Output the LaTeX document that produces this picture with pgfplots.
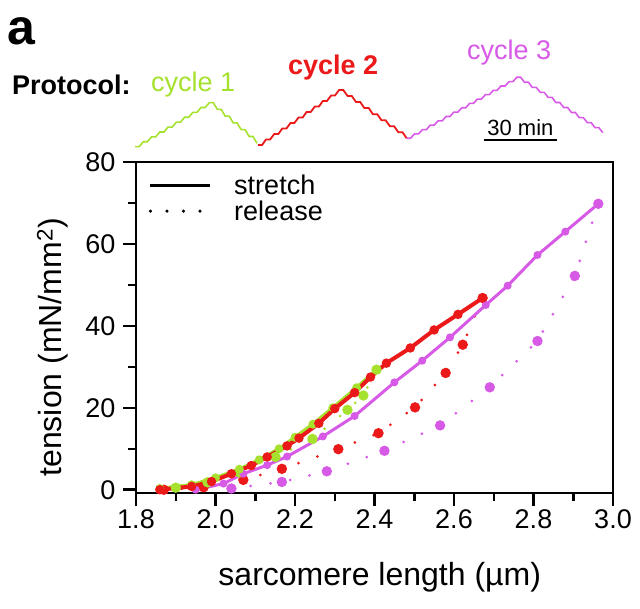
\documentclass[border=0pt]{standalone}
\usepackage{fontspec}
\setmainfont{Liberation Sans}
\usepackage{pgfplots}
\pgfplotsset{compat=1.18}

\definecolor{cgreen}{RGB}{165,225,45}
\definecolor{cred}{RGB}{235,25,25}
\definecolor{cmag}{RGB}{215,90,230}

\pgfplotsset{
  stretch/.style={line width=3.5pt, mark=*, mark size=2.6pt},
  release/.style={line width=3pt, line cap=round, dash pattern=on 0pt off 20pt,
                  mark=*, mark size=3.6pt, mark options={solid}},
}

\begin{document}
\begin{tikzpicture}
\useasboundingbox (0,0) rectangle (640pt,-609pt);

% panel letter and protocol labels
\node[anchor=base west, inner sep=0, font=\fontsize{50}{50}\selectfont\bfseries] at (7pt,-45pt) {a};
\node[anchor=base west, inner sep=0, font=\fontsize{27}{30}\selectfont\bfseries] at (12pt,-95pt) {Protocol:};
\node[anchor=base west, inner sep=0, text=cgreen, font=\fontsize{27}{30}\selectfont] at (151pt,-92pt) {cycle 1};
\node[anchor=base west, inner sep=0, text=cred, font=\fontsize{27}{30}\selectfont\bfseries] at (288pt,-75pt) {cycle 2};
\node[anchor=base west, inner sep=0, text=cmag, font=\fontsize{27}{30}\selectfont] at (467pt,-60pt) {cycle 3};

% protocol traces (time in min)
\begin{axis}[
    at={(135pt,-150pt)}, anchor=south west,
    scale only axis, width=486pt, height=80pt,
    xmin=0, xmax=200, ymin=0, ymax=80,
    axis lines=none, clip=false,
]
\addplot[cgreen, line width=1.6pt] coordinates {
    (0,3.3) (1.7,3.3) (3.4,8.2) (5.1,8.2) (6.8,13.1) (8.5,13.1) (10.2,18) (11.9,18)
    (13.6,22.9) (15.3,22.9) (17,27.8) (18.7,27.8) (20.4,32.7) (22.1,32.7) (23.8,37.6)
    (25.5,37.6) (27.2,42.5) (28.9,42.5) (30.6,47.4)
    (32.2,47.4) (33.9,40.6) (35.5,40.6) (37.1,33.8) (38.8,33.8) (40.4,27.1) (42.0,27.1)
    (43.7,20.3) (45.3,20.3) (47.0,13.5) (48.6,13.5) (50.2,6.7)
};
\addplot[cred, line width=1.8pt] coordinates {
    (50.6,5) (52.3,5) (53.9,10.5) (55.6,10.5) (57.3,16) (59,16) (60.6,21.5) (62.3,21.5)
    (64,27) (65.6,27) (67.3,32.5) (69,32.5) (70.6,38) (72.3,38) (74,43.5) (75.7,43.5)
    (77.3,49) (79,49) (80.7,54.5) (82.3,54.5) (84,60)
    (85.7,60) (87.5,54) (89.2,54) (91,47.9) (92.7,47.9) (94.4,41.9) (96.2,41.9)
    (97.9,35.8) (99.7,35.8) (101.4,29.8) (103.1,29.8) (104.9,23.8) (106.6,23.8)
    (108.4,17.7) (110.1,17.7) (111.8,11.7)
};
\addplot[cmag, line width=1.6pt] coordinates {
    (111.8,11.7) (113.4,11.7) (115,16.1) (116.7,16.1) (118.3,20.4) (119.9,20.4)
    (121.5,24.8) (123.1,24.8) (124.7,29.1) (126.4,29.1) (128,33.5) (129.6,33.5)
    (131.2,37.8) (132.8,37.8) (134.5,42.2) (136.1,42.2) (137.7,46.6) (139.3,46.6)
    (140.9,50.9) (142.5,50.9) (144.2,55.3) (145.8,55.3) (147.4,59.6) (149,59.6)
    (150.6,64) (152.3,64) (153.9,68.3) (155.5,68.3) (157.1,72.7)
    (158.7,72.7) (160.3,67.7) (161.9,67.7) (163.5,62.6) (165.1,62.6) (166.8,57.6)
    (168.4,57.6) (170,52.6) (171.6,52.6) (173.2,47.5) (174.8,47.5) (176.4,42.5)
    (178,42.5) (179.6,37.5) (181.2,37.5) (182.8,32.4) (184.5,32.4) (186.1,27.4)
    (187.7,27.4) (189.3,22.3) (190.9,22.3) (192.5,17.3)
};
% 30 min scale bar
\addplot[black, line width=2pt] coordinates {(143.6,10) (173.7,10)};
\node[anchor=base, inner sep=0, font=\fontsize{22}{24}\selectfont] at (axis cs:158.6,14) {30 min};
\end{axis}

% main panel
\begin{axis}[
    at={(136pt,-493pt)}, anchor=south west,
    scale only axis, width=477pt, height=331pt,
    xmin=1.8, xmax=3.0, ymin=-0.8, ymax=80,
    xtick={1.8,2.0,2.2,2.4,2.6,2.8,3.0},
    minor xtick={1.9,2.1,2.3,2.5,2.7,2.9},
    ytick={0,20,40,60,80},
    minor ytick={10,30,50,70},
    xtick pos=bottom, ytick pos=left,
    tick align=outside,
    major tick length=13pt, minor tick length=8pt,
    tick style={black, line width=2.5pt},
    axis line style={line width=2.5pt},
    /pgf/number format/assume math mode=true,
    ticklabel style={font=\fontsize{27}{30}\selectfont},
    xticklabel style={/pgf/number format/.cd, fixed, fixed zerofill, precision=1},
    yticklabel style={xshift=-4pt},
    label style={font=\fontsize{32}{36}\selectfont},
    xlabel={sarcomere length (µm)},
    ylabel={tension (mN/mm\textsuperscript{2})},
    xlabel style={at={(axis description cs:0.511,-0.254)}, anchor=center},
    ylabel style={at={(axis description cs:-0.175,0.44)}, anchor=center},
    legend style={at={(rel axis cs:0.02,0.975)}, anchor=north west, draw=none, fill=none,
                  font=\fontsize{27}{30}\selectfont, row sep=1pt},
    legend cell align=left,
    legend image code/.code={\draw[#1] (0pt,0pt) -- (60pt,0pt); \path (80pt,0pt);},
    clip=false,
]
\addlegendimage{black, line width=3pt}
\addlegendentry{stretch}
\addlegendimage{black, line width=3.5pt, line cap=round, dash pattern=on 0pt off 16.5pt}
\addlegendentry{release}

% release (dotted)
\addplot[cmag, release, forget plot] coordinates {
    (2.963,69.8) (2.904,52.2) (2.81,36.3) (2.69,25) (2.565,15.7) (2.425,9.5)
    (2.28,4.5) (2.167,1.9) (2.04,0.3)
};
\addplot[cred, release, forget plot] coordinates {
    (2.672,46.8) (2.622,35.4) (2.579,28.5) (2.502,20.1) (2.41,13.8) (2.309,9.9)
    (2.167,5.1) (2.07,2.4) (1.97,0.6) (1.87,0)
};
\addplot[cgreen, release, forget plot] coordinates {
    (2.405,29.3) (2.372,23) (2.332,19.5) (2.244,12.4) (2.151,8.0) (2.06,4.2)
    (1.98,1.8) (1.90,0.5)
};

% stretch (solid)
\addplot[cmag, stretch, line width=3pt, mark size=2.4pt, forget plot] coordinates {
    (1.95,0) (2.02,1.5) (2.07,3.9) (2.13,6) (2.18,8.1) (2.27,13) (2.35,18)
    (2.45,26.2) (2.52,31.5) (2.59,37.2) (2.68,45.1) (2.735,49.8) (2.81,57.3)
    (2.88,63) (2.963,69.8)
};
\addplot[cgreen, stretch, forget plot] coordinates {
    (1.86,0.3) (1.94,1.2) (2.00,2.9) (2.06,5.0) (2.11,7.3) (2.16,10.0) (2.20,12.8)
    (2.245,16.0) (2.295,20.0) (2.355,24.9) (2.405,29.3)
};
\addplot[cred, stretch, line width=4pt, forget plot] coordinates {
    (1.86,0) (1.94,0.8) (1.99,2) (2.04,3.9) (2.09,5.9) (2.13,8) (2.18,10.7)
    (2.21,12.6) (2.26,16.2) (2.30,19.8) (2.35,23.7) (2.39,27.5) (2.43,30.9)
    (2.49,34.6) (2.55,39) (2.61,42.8) (2.672,46.8)
};
\end{axis}
\end{tikzpicture}
\end{document}
